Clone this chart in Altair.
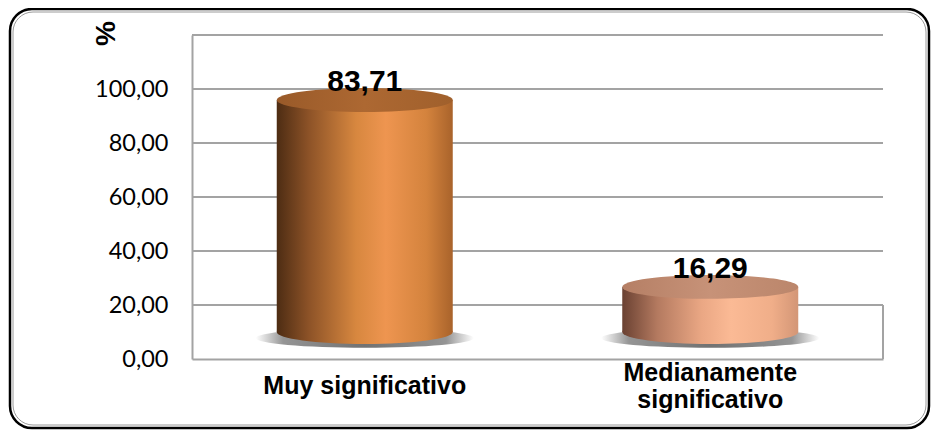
import altair as alt
import pandas as pd

# ---- data ----
categories = ["Muy significativo", "Medianamente significativo"]
values = [83.71, 16.29]
tick_values = [0, 20, 40, 60, 80, 100]
grid_values = [20, 40, 60, 80, 100, 120]
floor_from = [20]
floor_to = [0]

# ---- styles ----
body_stops = [
    [("#4d2c13", 0), ("#8c5227", 0.18), ("#d7873f", 0.45), ("#ee9550", 0.62), ("#d4833d", 0.85), ("#a9632b", 1)],
    [("#6a4132", 0), ("#b47a60", 0.2), ("#eaa784", 0.45), ("#fbba95", 0.62), ("#f0ae89", 0.85), ("#d39676", 1)],
]
top_stops = [
    [("#995a29", 0), ("#ad6832", 0.5), ("#a0602c", 1)],
    [("#b57f65", 0), ("#c79278", 0.5), ("#bb866b", 1)],
]
ELL = "M-1,0A1,0.136,0,1,1,1,0A1,0.136,0,1,1,-1,0Z"
SHADOW = "M-1,0A1,0.09,0,1,1,1,0A1,0.09,0,1,1,-1,0Z"
CYL_W = 176
GRID_COLOR = "#a3a3a3"


def lin(stops):
    return alt.Gradient(gradient="linear", x1=0, x2=1, y1=0, y2=0,
                        stops=[alt.GradientStop(color=c, offset=o) for c, o in stops])


shadow_fill = alt.Gradient(gradient="radial", x1=0.5, y1=0.5, r1=0, x2=0.5, y2=0.5, r2=0.5,
                           stops=[alt.GradientStop(color="#707070", offset=0),
                                  alt.GradientStop(color="#959595", offset=0.75),
                                  alt.GradientStop(color="#ffffff", offset=1)])

df = pd.DataFrame({"cat": categories, "value": values})

x_enc = alt.X("cat:N", sort=categories, title=None,
              scale=alt.Scale(paddingInner=0, paddingOuter=0),
              axis=alt.Axis(labelFont="Liberation Sans", labelFontWeight="bold", labelFontSize=25,
                            labelColor="black", labelAngle=0,
                            labelPadding={"condition": {"test": "datum.value == 'Medianamente significativo'",
                                                        "value": 13}, "value": 26},
                            labelBaseline="middle",
                            labelLineHeight=27, labelLimit=400, ticks=False, tickSize=0,
                            domain=True, domainColor=GRID_COLOR, domainWidth=2,
                            labelExpr="datum.label == 'Medianamente significativo' ? ['Medianamente', 'significativo'] : datum.label"))

ysc = alt.Scale(domain=[-9.74, 107.2], nice=False, zero=False)

base = alt.Chart(df).transform_calculate(
    base0="0",
    label="replace(format(datum.value, '.2f'), '.', ',')",
)

cyl_layers = []
for i, cat in enumerate(categories):
    b = base.transform_filter(alt.datum.cat == cat)
    cyl_layers.append(
        b.mark_point(shape=SHADOW, filled=True, fill=shadow_fill, opacity=1, strokeWidth=0,
                     size=218 * 218, yOffset=6)
        .encode(x=x_enc, y=alt.Y("base0:Q", scale=ysc, axis=None))
    )
    cyl_layers.append(
        b.mark_point(shape=ELL, filled=True, fill=lin(body_stops[i]), opacity=1, strokeWidth=0,
                     size=CYL_W * CYL_W)
        .encode(x=x_enc, y=alt.Y("base0:Q", scale=ysc, axis=None))
    )
    cyl_layers.append(
        b.mark_bar(size=CYL_W, fill=lin(body_stops[i]), strokeWidth=0, opacity=1)
        .encode(x=x_enc, y=alt.Y("value:Q", scale=ysc, axis=None), y2="base0:Q")
    )
    cyl_layers.append(
        b.mark_point(shape=ELL, filled=True, fill=lin(top_stops[i]), opacity=1, strokeWidth=0,
                     size=CYL_W * CYL_W)
        .encode(x=x_enc, y=alt.Y("value:Q", scale=ysc, axis=None))
    )
    cyl_layers.append(
        b.mark_text(dy=-18, font="Liberation Sans", fontSize=30, fontWeight="bold", color="black",
                    baseline="middle")
        .encode(x=x_enc, y=alt.Y("value:Q", scale=ysc, axis=None), text="label:N")
    )

cylinders = alt.layer(*cyl_layers)

# ---- axis / grid ----
y_axis = alt.Axis(values=tick_values, grid=False, ticks=False, tickSize=0,
                  domain=True, domainColor=GRID_COLOR, domainWidth=2,
                  labelFont="Lato", labelFontSize=23.5, labelColor="black", labelPadding=24,
                  labelExpr="replace(format(datum.value, '.2f'), '.', ',')",
                  title="%", titleFont="Liberation Sans", titleFontWeight="bold", titleFontSize=28,
                  titleColor="black", titleAngle=-90, titleX=-86, titleY=-2,
                  titleAlign="center", titleBaseline="middle")
y_grid_scale = alt.Scale(domain=[0, 120], nice=False, zero=True)

grid = alt.Chart(pd.DataFrame({"v": grid_values})).mark_rule(color=GRID_COLOR, strokeWidth=2).encode(
    y=alt.Y("v:Q", scale=y_grid_scale, axis=y_axis)
)
floor = alt.Chart(pd.DataFrame({"v": floor_from, "v0": floor_to})).mark_rule(
    color=GRID_COLOR, strokeWidth=2).encode(
    x=alt.value(691),
    y=alt.Y("v:Q", scale=y_grid_scale, axis=y_axis),
    y2="v0:Q",
)
grid_layer = alt.layer(grid, floor)

# ---- outer rounded frame ----
frame_df = pd.DataFrame({"a": [0]})
frame_outer = alt.Chart(frame_df).mark_rect(
    fillOpacity=0, stroke="black", strokeWidth=2.5, cornerRadius=22).encode(
    x=alt.value(-182), x2=alt.value(737), y=alt.value(-26), y2=alt.value(393))
frame_inner = alt.Chart(frame_df).mark_rect(
    fillOpacity=0, stroke="#9a9a9a", strokeWidth=1, cornerRadius=20).encode(
    x=alt.value(-179), x2=alt.value(734), y=alt.value(-23), y2=alt.value(390))

chart = alt.layer(frame_outer, frame_inner, grid_layer, cylinders).resolve_scale(
    y="independent"
).properties(
    width=691, height=324,
    padding={"left": 184, "top": 27, "right": 48, "bottom": 72},
    autosize=alt.AutoSizeParams(type="none"),
    background="white",
).configure_view(stroke=None)

chart.save("out.html", embed_options={"renderer": "svg", "actions": False})
